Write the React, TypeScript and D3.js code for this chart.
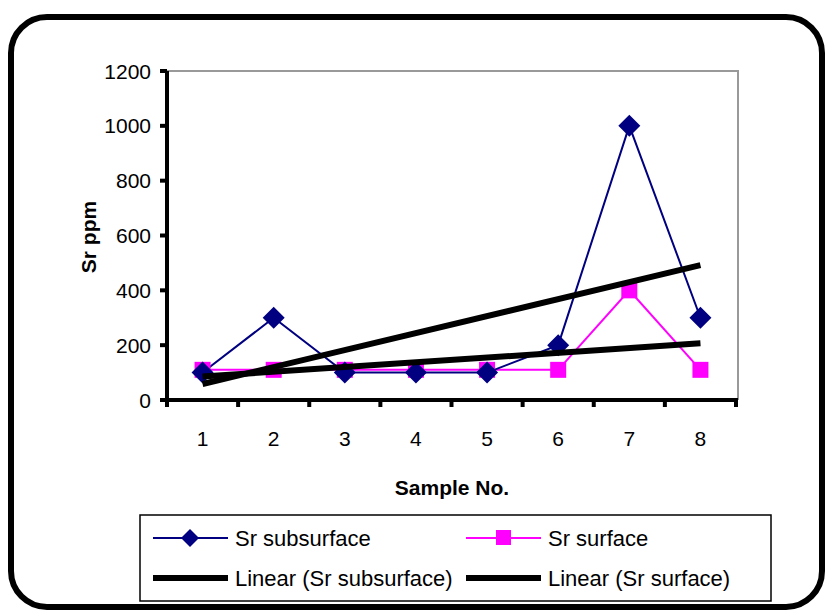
import React from 'react';
import * as d3 from 'd3';

const samples = ['1', '2', '3', '4', '5', '6', '7', '8'];
const subsurface = [100, 300, 100, 100, 100, 200, 1000, 300];
const surface = [110, 110, 110, 110, 110, 110, 400, 110];
const yTicks = [0, 200, 400, 600, 800, 1000, 1200];

// least-squares trend line, like Excel's "Linear" trendline
function linearFit(vals: number[]) {
  const xs = vals.map((_, i) => i + 1);
  const mx = d3.mean(xs) as number;
  const my = d3.mean(vals) as number;
  let sxy = 0, sxx = 0;
  xs.forEach((x, i) => { sxy += (x - mx) * (vals[i] - my); sxx += (x - mx) ** 2; });
  const slope = sxy / sxx;
  return (x: number) => my + slope * (x - mx);
}

export default function App() {
  const left = 167, right = 736, top = 71, bottom = 400;

  const x = d3.scaleBand<string>().domain(samples).range([left, right]).padding(0);
  const y = d3.scaleLinear().domain([0, 1200]).range([bottom, top]);
  const cx = (s: string) => (x(s) as number) + x.bandwidth() / 2;

  const line = d3.line<number>()
    .x((_, i) => cx(samples[i]))
    .y(d => y(d));

  const fitSub = linearFit(subsurface);
  const fitSurf = linearFit(surface);

  const trendPath = (f: (x: number) => number) => {
    const x0 = cx(samples[0]);
    const x1 = cx(samples[samples.length - 1]);
    return `M${x0},${y(f(1))}L${x1},${y(f(samples.length))}`;
  };

  const font = 'Arial, "Liberation Sans", sans-serif';
  const boundaries = [...samples.map(s => x(s) as number), right];

  return (
    <div style={{ position: 'fixed', left: 0, top: 0 }}>
      <svg width={825} height={612} style={{ display: 'block', fontFamily: font }}>
        <rect x={0} y={0} width={825} height={612} fill="#fff" />
        <rect x={11} y={17} width={811} height={590} rx={36} fill="none" stroke="#000" strokeWidth={6} />

        {/* plot frame */}
        <path d={`M${left},${top}H${right + 2}V${bottom}`} fill="none" stroke="#999" strokeWidth={2} />
        <line x1={left} x2={left} y1={top} y2={bottom + 2} stroke="#000" strokeWidth={4} />
        <line x1={left - 2} x2={right + 2} y1={bottom} y2={bottom} stroke="#000" strokeWidth={4} />

        {yTicks.map(t => (
          <g key={t}>
            <line x1={left - 7} x2={left} y1={y(t)} y2={y(t)} stroke="#000" strokeWidth={4} />
            <text x={151} y={y(t)} dy="0.36em" textAnchor="end" fontSize={21}>{t}</text>
          </g>
        ))}
        {boundaries.map((b, i) => (
          <line key={i} x1={b} x2={b} y1={bottom} y2={bottom + 7} stroke="#000" strokeWidth={4} />
        ))}
        {samples.map(s => (
          <text key={s} x={cx(s)} y={446} textAnchor="middle" fontSize={21}>{s}</text>
        ))}

        <text x={452} y={495} textAnchor="middle" fontSize={21} fontWeight="bold">Sample No.</text>
        <text transform={`translate(96,237) rotate(-90)`} textAnchor="middle" fontSize={21} fontWeight="bold">Sr ppm</text>

        {/* series */}
        <path d={line(surface) as string} fill="none" stroke="#ff00ff" strokeWidth={2} />
        <path d={line(subsurface) as string} fill="none" stroke="#000080" strokeWidth={2} />
        {surface.map((v, i) => (
          <rect key={i} x={cx(samples[i]) - 8} y={y(v) - 8} width={16} height={16} fill="#ff00ff" />
        ))}
        {subsurface.map((v, i) => (
          <path key={i} transform={`translate(${cx(samples[i])},${y(v)})`} d="M0,-11L11,0L0,11L-11,0Z" fill="#000080" />
        ))}

        {/* trendlines */}
        <path d={trendPath(fitSub)} stroke="#000" strokeWidth={6} fill="none" />
        <path d={trendPath(fitSurf)} stroke="#000" strokeWidth={6} fill="none" />

        {/* legend */}
        <rect x={140} y={515} width={631} height={86} fill="#fff" stroke="#000" strokeWidth={1.5} />
        <g fontSize={22}>
          <line x1={153} x2={228} y1={538} y2={538} stroke="#000080" strokeWidth={2} />
          <path transform="translate(190,538)" d="M0,-9L9,0L0,9L-9,0Z" fill="#000080" />
          <text x={235} y={538} dy="0.36em">Sr subsurface</text>

          <line x1={466} x2={541} y1={538} y2={538} stroke="#ff00ff" strokeWidth={2} />
          <rect x={496} y={530} width={15} height={15} fill="#ff00ff" />
          <text x={548} y={538} dy="0.36em">Sr surface</text>

          <line x1={153} x2={228} y1={578} y2={578} stroke="#000" strokeWidth={6} />
          <text x={235} y={578} dy="0.36em">Linear (Sr subsurface)</text>

          <line x1={466} x2={541} y1={578} y2={578} stroke="#000" strokeWidth={6} />
          <text x={548} y={578} dy="0.36em">Linear (Sr surface)</text>
        </g>
      </svg>
    </div>
  );
}
